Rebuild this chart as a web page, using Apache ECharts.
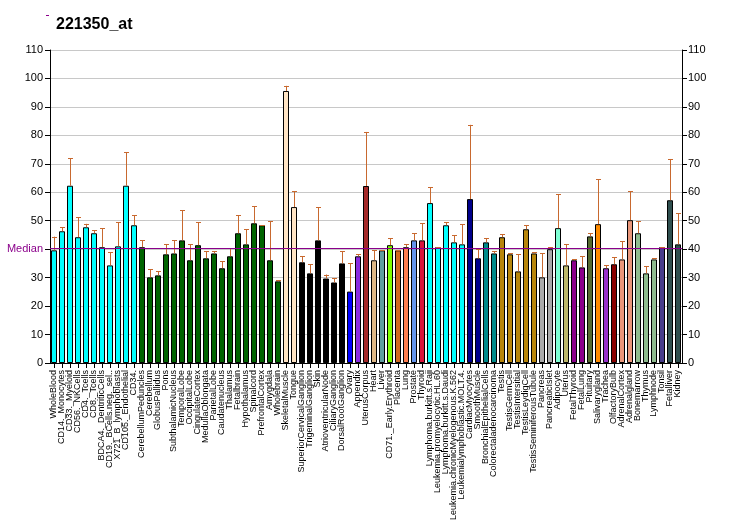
<!DOCTYPE html>
<html><head><meta charset="utf-8">
<script src="https://cdn.jsdelivr.net/npm/echarts@6/dist/echarts.min.js"></script>
<style>html,body{margin:0;padding:0;background:#fff}#c{width:732px;height:530px}</style>
</head><body><div id="c"></div>
<script>
const categories = ["WholeBlood","CD14._Monocytes","CD33._Myeloid","CD56._NKCells","CD4._Tcells","CD8._Tcells","BDCA4._DentriticCells","CD19._BCells.neg._sel..","X721_B_lymphoblasts","CD105._Endothelial","CD34.",
"CerebellumPeduncles","Cerebellum","GlobusPallidus","Pons","SubthalamicNucleus","TemporalLobe","OccipitalLobe","CingulateCortex","MedullaOblongata","ParietalLobe","Caudatenucleus","Thalamus","Fetalbrain","Hypothalamus","Spinalcord","PrefrontalCortex","Amygdala","Wholebrain",
"SkeletalMuscle","Tongue",
"SuperiorCervicalGanglion","TrigeminalGanglion","Skin","AtrioventricularNode","CiliaryGanglion","DorsalRootGanglion",
"Ovary","Appendix","UterusCorpus","Heart","Liver","CD71._Early.Erythroid","Placenta","Lung","Prostate","Thyroid",
"Lymphoma.burkitt.s.Raji","Leukemia.promyelocytic.HL.60","Lymphoma.burkitt.s.Daudi","Leukemia.chronicMyelogenous.K.562","Leukemialymphoblastic.MOLT.4.",
"CardiacMyocytes","SmoothMuscle","BronchialEpithelialCells","Colorectaladenocarcinoma",
"Testis","TestisGermCell","TestisIntersitial","TestisLeydigCell","TestisSeminiferousTubule",
"Pancreas","PancreaticIslet","Adipocyte","Uterus","FetalThyroid","FetalLung","Pituitary","Salivarygland","Trachea","OlfactoryBulb","AdrenalCortex","Adrenalgland","Bonemarrow","Thymus","Lymphnode","Tonsil","Fetalliver","Kidney"];

const values = [39.6,46.3,62.3,44.2,47.7,45.6,40.7,34.3,41.0,62.3,48.4,
40.7,30.1,30.8,38.2,38.5,43.1,36.1,41.4,36.8,38.5,33.3,37.5,45.6,41.7,49.1,48.4,36.1,28.7,
95.6,54.8,
35.4,31.5,43.1,29.7,28.3,35.0,
25.1,37.5,62.2,36.1,39.6,41.4,39.6,40.7,43.1,43.1,
56.2,40.7,48.4,42.4,41.7,
57.6,36.8,42.4,38.5,
44.2,38.2,32.2,47.0,38.5,
30.1,40.0,47.4,34.3,36.1,33.6,44.5,48.8,33.3,34.7,36.4,50.2,45.6,31.5,36.4,40.7,57.2,41.7];

const errorTop = [44.4,47.7,72.0,51.2,48.9,46.7,47.4,38.9,49.5,74.1,51.9,
43.1,32.9,32.2,41.7,43.1,53.7,41.7,49.5,39.2,39.2,35.7,40.3,51.9,47.0,55.1,48.4,49.8,29.0,
97.4,60.3,
37.5,34.7,54.8,31.1,29.7,39.2,
35.0,38.2,81.2,39.6,39.6,43.8,39.6,41.7,45.6,49.1,
61.8,40.7,49.5,44.9,48.8,
83.7,40.0,43.8,39.2,
45.2,38.5,38.2,48.4,38.9,
38.5,40.7,59.4,41.7,36.4,37.5,45.6,64.6,34.3,37.1,42.8,60.4,49.8,34.0,36.8,40.7,71.7,52.7];

const yTicks = [0,10,20,30,40,50,60,70,80,90,100,110];
const medianValue = 40.2;
const title = "221350_at";

// style: bar colours by tissue group
const colorGroups = [
  ["#00FFFF",11],["#006400",18],["#FFE4C4",2],["#000000",6],["#0000FF",1],["#8A2BE2",1],["#A52A2A",1],["#DEB887",1],["#5F9EA0",1],["#7FFF00",1],["#D2691E",1],["#FF7F50",1],["#6495ED",1],["#DC143C",1],["#00FFFF",5],["#00008B",2],["#008B8B",2],["#B8860B",5],["#A9A9A9",2],["#7FFFD4",1],["#BDB76B",1],["#8B008B",2],["#556B2F",1],["#FF8C00",1],["#9932CC",1],["#8B0000",1],["#E9967A",2],["#8FBC8F",3],["#483D8B",1],["#2F4F4F",2]
];
const barColors = [];
colorGroups.forEach(([c,n])=>{for(let i=0;i<n;i++)barColors.push(c);});

const errColor = '#C8692F';
const chart = echarts.init(document.getElementById('c'), null, {renderer:'canvas'});
const font = 'Liberation Sans, Arial, sans-serif';

chart.setOption({
  animation:false,
  backgroundColor:'#ffffff',
  title:{text:title,left:51,top:12,textStyle:{fontFamily:font,fontSize:16,fontWeight:'bold',color:'#000'}},
  graphic:[{type:'rect',shape:{x:46,y:15,width:3,height:1},style:{fill:'#8B008B'}}],
  grid:{left:50,right:50,top:50,bottom:167,containLabel:false},
  xAxis:{type:'category',data:categories,boundaryGap:true,
    axisLine:{show:true,lineStyle:{color:'#000',width:1}},
    axisTick:{show:true,alignWithLabel:true,interval:0,length:5,lineStyle:{color:'#000'}},
    axisLabel:{interval:0,rotate:90,fontFamily:font,fontSize:9,color:'#000',margin:7},
    splitLine:{show:false}},
  yAxis:[
    {type:'value',min:0,max:110,interval:10,position:'left',
     axisLine:{show:true,lineStyle:{color:'#000'}},
     axisTick:{show:true,length:5,lineStyle:{color:'#000'}},
     axisLabel:{fontFamily:font,fontSize:11,color:'#000',margin:7,
       formatter:function(v){return v===40?'':String(v);}},
     splitLine:{show:true,lineStyle:{color:'#C8C8C8',width:1}}},
    {type:'value',min:0,max:110,interval:10,position:'right',
     axisLine:{show:true,lineStyle:{color:'#000'}},
     axisTick:{show:true,length:5,lineStyle:{color:'#000'}},
     axisLabel:{fontFamily:font,fontSize:11,color:'#000',margin:6},
     splitLine:{show:false}}
  ],
  series:[
    {type:'bar',yAxisIndex:0,barWidth:6,
     data:values.map((v,i)=>({value:v,itemStyle:{color:barColors[i]}})),
     itemStyle:{borderColor:'#000',borderWidth:1},
     markLine:{silent:true,symbol:'none',
       lineStyle:{color:'#8B008B',width:1,type:'solid'},
       label:{show:true,position:'start',formatter:'Median',color:'#8B008B',fontFamily:font,fontSize:11,distance:7},
       data:[{yAxis:medianValue}]},
     z:2},
    {type:'custom',yAxisIndex:0,z:3,
     data:values.map((v,i)=>[i,v,errorTop[i]]),
     renderItem:function(params,api){
       const x=api.value(0),v=api.value(1),e=api.value(2);
       const b=api.coord([x,v]), t=api.coord([x,e]);
       const cx=Math.round(b[0])+0.5;
       return {type:'group',children:[
         {type:'line',shape:{x1:cx,y1:b[1],x2:cx,y2:t[1]},style:{stroke:errColor,lineWidth:1}},
         {type:'line',shape:{x1:cx-2.5,y1:Math.round(t[1])+0.5,x2:cx+2.5,y2:Math.round(t[1])+0.5},style:{stroke:errColor,lineWidth:1}}
       ]};
     }}
  ]
});
</script></body></html>
